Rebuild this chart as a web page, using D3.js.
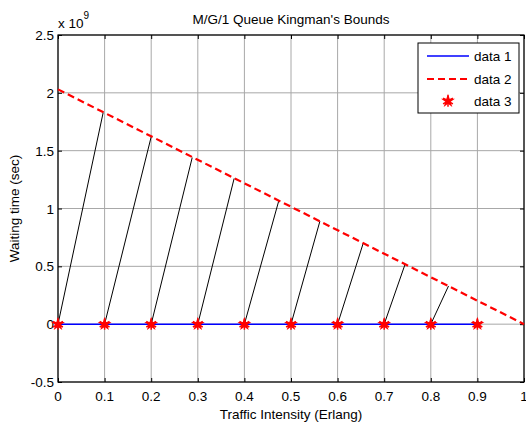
<!DOCTYPE html>
<html>
<head>
<meta charset="utf-8">
<script src="https://cdn.jsdelivr.net/npm/d3@7"></script>
<style>
  body { margin: 0; background: #fff; }
  text { font-family: "Liberation Sans", Arial, sans-serif; }
</style>
</head>
<body>
<div id="chart"></div>
<script>
// data (y values in units of 1e9 sec)
const rho = [0, 0.1, 0.2, 0.3, 0.4, 0.5, 0.6, 0.7, 0.8, 0.9];
const data1 = [0, 0, 0, 0, 0, 0, 0, 0, 0, 0];
const boundX = [0, 1];
const boundY = [2.03, 0];
const slantStartX = [0, 0.1, 0.2, 0.3, 0.4, 0.5, 0.6, 0.7, 0.8];
const slantEndX = [0.097, 0.2, 0.288, 0.378, 0.474, 0.562, 0.655, 0.745, 0.838];
const slantEndY = [1.83, 1.62, 1.44, 1.26, 1.07, 0.89, 0.70, 0.52, 0.33];
const xTicks = [0, 0.1, 0.2, 0.3, 0.4, 0.5, 0.6, 0.7, 0.8, 0.9, 1];
const yTicks = [-0.5, 0, 0.5, 1, 1.5, 2, 2.5];
const legendLabels = ["data 1", "data 2", "data 3"];

const W = 526, H = 425;
const margin = { top: 35, right: 2, bottom: 43, left: 58 };
const width = W - margin.left - margin.right;
const height = H - margin.top - margin.bottom;

const root = d3.select("#chart").append("svg")
    .attr("width", W)
    .attr("height", H);

root.append("rect").attr("width", W).attr("height", H).attr("fill", "#fff");

const svg = root.append("g")
    .attr("transform", "translate(" + margin.left + "," + margin.top + ")");

const x = d3.scaleLinear().domain([0, 1]).range([0, width]);
const y = d3.scaleLinear().domain([-0.5, 2.5]).range([height, 0]);

// grid
svg.selectAll(".gx").data(xTicks).enter().append("line")
    .attr("x1", d => x(d)).attr("x2", d => x(d))
    .attr("y1", 0).attr("y2", height)
    .attr("stroke", "#a8a8a8").attr("stroke-width", 1);
svg.selectAll(".gy").data(yTicks).enter().append("line")
    .attr("y1", d => y(d)).attr("y2", d => y(d))
    .attr("x1", 0).attr("x2", width)
    .attr("stroke", "#a8a8a8").attr("stroke-width", 1);

// axes, ticks pointing inward
const fmt = d => String(d);
svg.append("g").attr("transform", "translate(0," + height + ")")
    .call(d3.axisTop(x).tickValues(xTicks).tickSize(4).tickFormat(""));
svg.append("g")
    .call(d3.axisBottom(x).tickValues(xTicks).tickSize(4).tickFormat(""));
svg.append("g")
    .call(d3.axisRight(y).tickValues(yTicks).tickSize(4).tickFormat(""));
svg.append("g").attr("transform", "translate(" + width + ",0)")
    .call(d3.axisLeft(y).tickValues(yTicks).tickSize(4).tickFormat(""));
svg.selectAll(".domain").remove();
svg.selectAll(".tick line").attr("stroke", "#000");

svg.append("rect")
    .attr("width", width).attr("height", height)
    .attr("fill", "none").attr("stroke", "#000").attr("stroke-width", 1.2);

// tick labels
svg.selectAll(".xl").data(xTicks).enter().append("text")
    .attr("x", d => x(d)).attr("y", height + 19)
    .attr("text-anchor", "middle").attr("font-size", "13.5px")
    .text(fmt);
svg.selectAll(".yl").data(yTicks).enter().append("text")
    .attr("x", -4).attr("y", d => y(d) + 5)
    .attr("text-anchor", "end").attr("font-size", "13.5px")
    .text(fmt);

// exponent
const ex = svg.append("text").attr("x", 0).attr("y", -7).attr("font-size", "13.5px");
ex.append("tspan").text("x 10");
ex.append("tspan").attr("dy", -9).attr("font-size", "10px").text("9");

// labels and title
svg.append("text").attr("x", width / 2).attr("y", -11)
    .attr("text-anchor", "middle").attr("font-size", "13.5px")
    .text("M/G/1 Queue Kingman's Bounds");
svg.append("text").attr("x", width / 2).attr("y", height + 37)
    .attr("text-anchor", "middle").attr("font-size", "13.5px")
    .text("Traffic Intensity (Erlang)");
svg.append("text").attr("transform", "rotate(-90)")
    .attr("x", -height / 2).attr("y", -39)
    .attr("text-anchor", "middle").attr("font-size", "13.5px")
    .text("Waiting time (sec)");

// slanted black segments
svg.selectAll(".slant").data(slantStartX).enter().append("line")
    .attr("x1", d => x(d)).attr("y1", y(0))
    .attr("x2", (d, i) => x(slantEndX[i])).attr("y2", (d, i) => y(slantEndY[i]))
    .attr("stroke", "#000").attr("stroke-width", 1);

// data 2: red dashed bound
const bound = boundX.map((d, i) => ({ x: d, y: boundY[i] }));
svg.append("path").datum(bound)
    .attr("fill", "none").attr("stroke", "#ff0000").attr("stroke-width", 2.2)
    .attr("stroke-dasharray", "7,4")
    .attr("d", d3.line().x(d => x(d.x)).y(d => y(d.y)));

// data 1: blue line
const d1 = rho.map((d, i) => ({ x: d, y: data1[i] }));
svg.append("path").datum(d1)
    .attr("fill", "none").attr("stroke", "#0000ff").attr("stroke-width", 1.5)
    .attr("d", d3.line().x(d => x(d.x)).y(d => y(d.y)));

// data 3: red star markers
const star = d3.symbol().type(d3.symbolStar).size(60);
const ast = d3.symbol().type(d3.symbolAsterisk).size(90);
const markers = svg.selectAll(".mk").data(d1).enter().append("g")
    .attr("transform", d => "translate(" + x(d.x) + "," + y(d.y) + ")");
markers.append("path").attr("d", star()).attr("fill", "#ff0000");
markers.append("path").attr("d", ast()).attr("fill", "none")
    .attr("stroke", "#ff0000").attr("stroke-width", 1.5);

// legend
const lg = root.append("g").attr("transform", "translate(418,43)");
lg.append("rect").attr("width", 101).attr("height", 70)
    .attr("fill", "#fff").attr("stroke", "#000").attr("stroke-width", 1);
const rows = [13, 36, 58];
lg.append("line").attr("x1", 9).attr("x2", 51).attr("y1", rows[0]).attr("y2", rows[0])
    .attr("stroke", "#0000ff").attr("stroke-width", 1.5);
lg.append("line").attr("x1", 9).attr("x2", 51).attr("y1", rows[1]).attr("y2", rows[1])
    .attr("stroke", "#ff0000").attr("stroke-width", 2.2).attr("stroke-dasharray", "7,4");
const lm = lg.append("g").attr("transform", "translate(30," + rows[2] + ")");
lm.append("path").attr("d", star()).attr("fill", "#ff0000");
lm.append("path").attr("d", ast()).attr("fill", "none")
    .attr("stroke", "#ff0000").attr("stroke-width", 1.5);
lg.selectAll(".lt").data(legendLabels).enter().append("text")
    .attr("x", 56).attr("y", (d, i) => rows[i] + 5)
    .attr("font-size", "13.5px")
    .text(d => d);
</script>
</body>
</html>
